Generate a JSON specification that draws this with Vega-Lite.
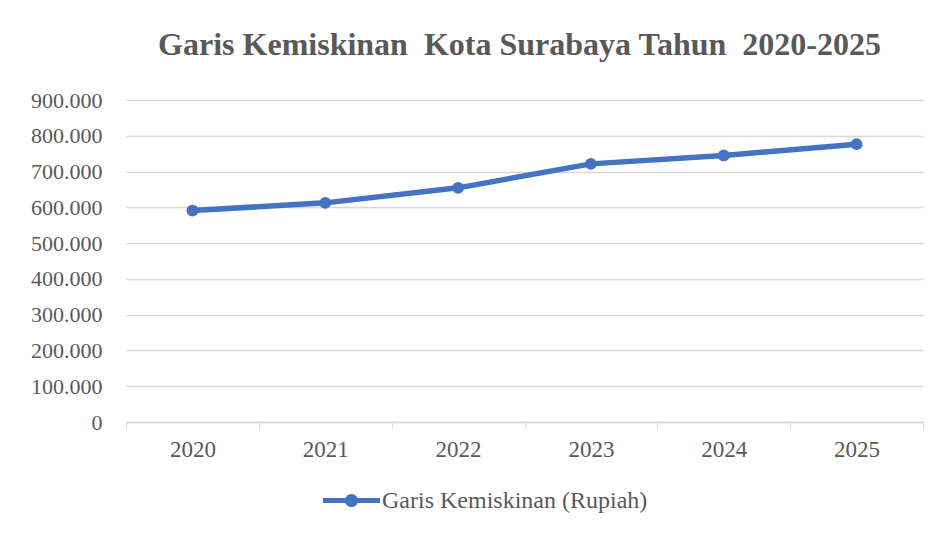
{
  "$schema": "https://vega.github.io/schema/vega-lite/v6.json",
  "autosize": {"type": "none"},
  "width": 797,
  "height": 322,
  "padding": {"left": 126, "top": 100, "right": 21, "bottom": 111},
  "background": "white",
  "title": {
    "text": "Garis Kemiskinan\u00a0 Kota Surabaya Tahun\u00a0 2020-2025",
    "font": "'Liberation Serif', 'Times New Roman', serif",
    "fontSize": 32,
    "fontWeight": "bold",
    "color": "#595959",
    "anchor": "middle",
    "offset": 27,
    "dx": -5
  },
  "config": {
    "view": {"stroke": null}
  },
  "data": {
    "values": [
      {"tahun": "2020", "nilai": 591000, "seri": "Garis Kemiskinan (Rupiah)"},
      {"tahun": "2021", "nilai": 612500, "seri": "Garis Kemiskinan (Rupiah)"},
      {"tahun": "2022", "nilai": 654500, "seri": "Garis Kemiskinan (Rupiah)"},
      {"tahun": "2023", "nilai": 721500, "seri": "Garis Kemiskinan (Rupiah)"},
      {"tahun": "2024", "nilai": 745000, "seri": "Garis Kemiskinan (Rupiah)"},
      {"tahun": "2025", "nilai": 776500, "seri": "Garis Kemiskinan (Rupiah)"}
    ]
  },
  "mark": {
    "type": "line",
    "strokeWidth": 5.5,
    "point": {"filled": true, "size": 140}
  },
  "encoding": {
    "x": {
      "field": "tahun",
      "type": "ordinal",
      "scale": {"type": "band", "paddingInner": 0, "paddingOuter": 0},
      "axis": {
        "title": null,
        "labelAngle": 0,
        "tickBand": "extent",
        "ticks": true,
        "tickSize": 6,
        "tickColor": "#d9d9d9",
        "domainColor": "#d9d9d9",
        "domainWidth": 1.5,
        "grid": false,
        "labelFont": "'Liberation Serif', 'Times New Roman', serif",
        "labelFontSize": 23,
        "labelColor": "#595959",
        "labelPadding": 10
      }
    },
    "y": {
      "field": "nilai",
      "type": "quantitative",
      "scale": {"domain": [0, 900000], "nice": false},
      "axis": {
        "title": null,
        "values": [0, 100000, 200000, 300000, 400000, 500000, 600000, 700000, 800000, 900000],
        "labelExpr": "replace(format(datum.value, ','), /,/g, '.')",
        "domain": false,
        "ticks": false,
        "grid": true,
        "gridColor": "#d9d9d9",
        "gridWidth": 1.5,
        "labelFont": "'Liberation Serif', 'Times New Roman', serif",
        "labelFontSize": 22,
        "labelColor": "#595959",
        "labelPadding": 24
      }
    },
    "color": {
      "field": "seri",
      "type": "nominal",
      "scale": {"range": ["#4472C4"]},
      "legend": {
        "title": null,
        "orient": "none",
        "legendX": 197,
        "legendY": 372,
        "symbolType": "M-1,-0.09 H1 V0.09 H-1 Z M0.23,0 A0.23,0.23 0 1,1 -0.23,0 A0.23,0.23 0 1,1 0.23,0 Z",
        "symbolSize": 3249,
        "symbolStrokeWidth": 0,
        "symbolFillColor": "#4472C4",
        "labelFont": "'Liberation Serif', 'Times New Roman', serif",
        "labelFontSize": 24,
        "labelColor": "#595959",
        "labelOffset": 2,
        "labelLimit": 500
      }
    }
  }
}
